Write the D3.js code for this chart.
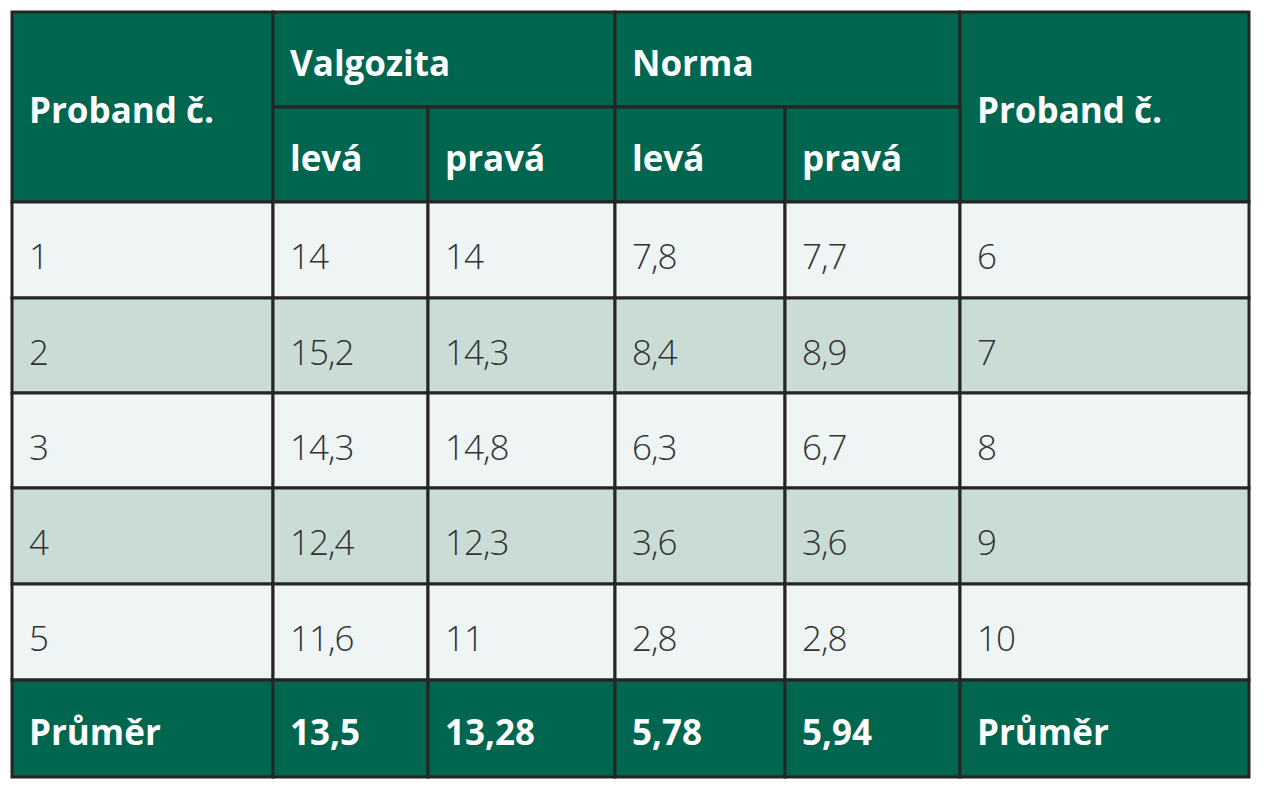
<!DOCTYPE html>
<html><head><meta charset="utf-8">
<script src="https://cdn.jsdelivr.net/npm/d3@7"></script>
<style>body{margin:0;background:#fff}</style>
</head><body><svg id="t"></svg>
<script>
var probandLeft = ['1', '2', '3', '4', '5'];
var valgLeva = ['14', '15,2', '14,3', '12,4', '11,6'];
var valgPrava = ['14', '14,3', '14,8', '12,3', '11'];
var normLeva = ['7,8', '8,4', '6,3', '3,6', '2,8'];
var normPrava = ['7,7', '8,9', '6,7', '3,6', '2,8'];
var probandRight = ['6', '7', '8', '9', '10'];
var averages = ['Průměr', '13,5', '13,28', '5,78', '5,94', 'Průměr'];

var colX = [12, 273, 428, 615, 785, 960, 1249];
var rowY = [202, 298, 393, 488, 584, 680, 777];
var dark = '#00664f', line = '#252525';

var svg = d3.select('svg#t').attr('width', 1272).attr('height', 800);
var cols = [probandLeft, valgLeva, valgPrava, normLeva, normPrava, probandRight];

var cell = function (x0, x1, y0, y1, fill, txt, bold) {
    svg.append('rect').attr('x', x0).attr('y', y0)
        .attr('width', x1 - x0).attr('height', y1 - y0)
        .attr('fill', fill).attr('stroke', line).attr('stroke-width', 3);
    svg.append('text').attr('x', x0 + 17).attr('y', (y0 + y1) / 2 + (bold ? 16 : 19))
        .attr('font-family', 'Open Sans, sans-serif')
        .attr('font-size', bold ? 35 : 35)
        .attr('font-weight', bold ? 700 : 300)
        .attr('letter-spacing', bold ? 0 : -1)
        .attr('fill', bold ? '#fff' : '#333')
        .text(txt);
};

// header
cell(colX[0], colX[1], 12, 202, dark, 'Proband č.', true);
cell(colX[1], colX[3], 12, 107, dark, 'Valgozita', true);
cell(colX[3], colX[5], 12, 107, dark, 'Norma', true);
cell(colX[5], colX[6], 12, 202, dark, 'Proband č.', true);
['levá', 'pravá', 'levá', 'pravá'].forEach(function (s, i) {
    cell(colX[i + 1], colX[i + 2], 107, 202, dark, s, true);
});

// body
probandLeft.forEach(function (d, r) {
    var fill = r % 2 ? '#c9ddd6' : '#eef5f4';
    cols.forEach(function (c, i) {
        cell(colX[i], colX[i + 1], rowY[r], rowY[r + 1], fill, c[r], false);
    });
});

// footer
averages.forEach(function (s, i) {
    cell(colX[i], colX[i + 1], rowY[5], rowY[6], dark, s, true);
});
</script></body></html>
